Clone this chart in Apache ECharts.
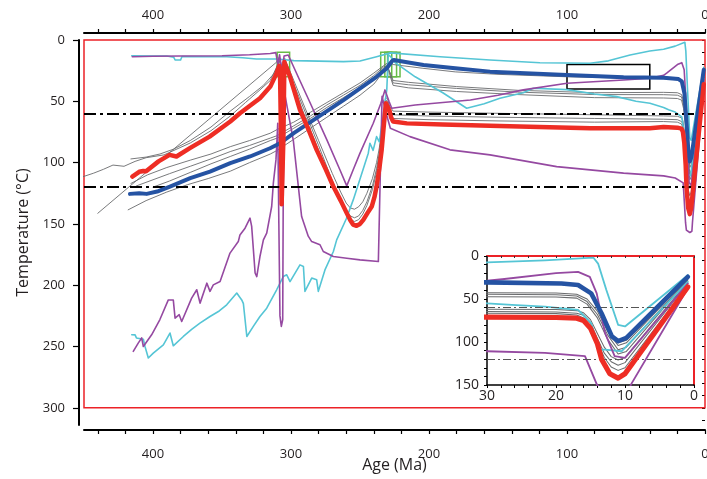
<!DOCTYPE html>
<html><head><meta charset="utf-8">
<script src="https://cdn.jsdelivr.net/npm/echarts@6/dist/echarts.min.js"></script>
<style>html,body{margin:0;padding:0;background:#fff}#c{width:707px;height:479px}</style>
</head><body><div id="c"></div>
<script>
// ---- data: [age Ma, temperature °C] ----
const redPath = [[415,111.4],[410,107.5],[407,106.8],[405,107],[396,99],[388,93.7],[383,95],[373,88],[359,78.8],[344,66.5],[337,59.8],[322.5,47.5],[315,38],[310.4,27],[308.5,21],[308,23],[307.2,80],[306.8,134],[305.9,134],[305.5,80],[304.8,18],[303.5,17],[300.7,30],[293.5,57],[287,74],[281.4,89.6],[275,105],[269.3,119.5],[264,131],[259.6,141.2],[257,147],[255,150.5],[252.5,151.5],[250,150],[247.6,146.7],[244.5,141],[241.5,135.8],[239.5,128],[238,119.5],[236,105],[234.3,89.6],[232.6,67.9],[231.2,51.6],[230,50.3],[228.5,58],[227.5,63],[226,66.5],[216,68],[190,69],[155.8,70],[120,71],[83,72],[40,72],[30,71],[20,71.5],[17,72.3],[16,75],[15,84],[14,102],[13.4,120],[12.2,137],[11,142],[10,137],[0.9,36]];
const bluePath = [[416.7,125.5],[410,125],[404.6,125.5],[397,123.6],[387.7,119.5],[373,112.7],[358.7,107.3],[344,100.5],[329.7,95],[315.2,88.3],[307.9,84.2],[298,76],[286,67],[274,58],[262,49],[252,41],[238,30],[230.6,23],[227,17.5],[225.5,16.3],[213.8,18.5],[204,20.4],[181,23],[155.8,25.8],[100,28.5],[59,30.4],[30,30.7],[19.2,31.9],[16.8,33.8],[14.9,43.4],[13.4,66.5],[11.9,93.4],[11,99],[9.8,95.3],[0.9,24.2]];
const purpleUpper = [[415,13.6],[400,13.2],[380,13],[350,12.8],[330,12],[315,11],[311,10.3],[309.5,20],[308.3,12],[306.5,26],[305,13],[302,12.2],[294,32],[286,51.6],[274,81.5],[264.5,106],[259.6,119],[255,106],[250,92.3],[240.4,67.9],[235,52],[231.9,40.7],[229,50],[227,55.7],[210,53],[190,51],[170,48.9],[150,45],[131.7,40.7],[100,35.3],[59,32.6],[39.9,31.2],[30,28.8],[27.8,27],[20,20],[16.8,18.5],[15.1,24.2],[14.1,43.4],[12.9,89.5],[11.5,116.5],[10,118.4],[0.9,32]];
const purpleLower = [[414.3,254],[410.6,247],[408.2,243],[407,250],[401,240.4],[395,228],[388.9,212],[385.3,212],[384,226.8],[381,224],[379.2,229.6],[372,210.5],[368.3,203.7],[365.9,214.6],[361,198.3],[358.7,205],[356.3,199.7],[351.4,197],[344.2,173.8],[338.2,164.4],[337,159],[333.3,153.5],[329.7,145.3],[328.5,152],[326,190],[324.8,193],[322.5,176.6],[320,163],[317.6,157.5],[314,135.8],[312.8,116.8],[310.9,97.8],[310.4,87],[309.6,68],[308.8,150],[308,225],[307,233.6],[306,228],[305.6,120],[304.6,43.5],[298.3,82],[292.3,144],[287.5,160],[285,164.4],[279,167],[276.6,172.5],[269.3,176.6],[259.6,178],[250,179.3],[236.7,180.7],[235.5,120],[234,46],[231,60],[228,72],[213.8,78.8],[184.8,89.6],[155.8,93.7],[107.5,103.3],[59,108.6],[30,110.8],[21.6,112.6],[15.8,116.5],[14.1,149],[13.5,155],[11,157],[9.5,156],[9.1,149],[0.9,37.6]];
const cyanUpper = [[415.4,12.8],[400,13],[390,13],[385,14],[384,16.3],[380,16.3],[379,13.5],[360,13.6],[346.6,13.6],[335,14.5],[325,15.5],[310,15.5],[298,16.8],[262,17.6],[250,17.1],[238,13.6],[228,10.5],[192,13.6],[155.8,16.3],[119.6,18.5],[83.3,19],[70,17],[54.3,12.2],[40,9],[30,7.5],[21.6,5],[14.6,1.8],[13.9,8.8],[12.7,39.6],[11,80],[10,81.9],[0.9,22.3]];
const cyanLower = [[415.4,240.4],[413,240.5],[412,243],[407,244],[405.8,250],[404.6,251],[403.4,259.4],[399.8,255.4],[392.5,248.6],[387.7,239],[385.3,249.4],[378,241.8],[372,236],[366,230.9],[358.7,225.5],[352,221],[346.6,216],[339.3,206.4],[337,210],[335.7,212],[334.5,215],[332,241.8],[327.3,233.6],[322.5,225.5],[317.6,218.7],[310.4,203.7],[305.6,192.9],[303.1,191.5],[300.7,197],[293.5,183.4],[291,184.7],[289.9,205],[285,194.2],[281.4,195.6],[280.2,205],[275.4,187.5],[269.3,172.5],[266.9,163],[260,146],[254.9,130.4],[249,110],[244,92.3],[242.8,84.2],[240.5,90],[238,78.8],[236,83],[233,60],[230.6,40.7],[229.5,12],[227.5,14],[225,18],[210,30],[190,43],[172.7,55.7],[160,52],[148.6,47.5],[131.7,43],[124.4,39.4],[100.2,40.5],[80,44],[64,46.2],[50,50],[39.9,51.6],[30,55],[26.4,56.9],[21.6,58.8],[16.8,62.7],[14.9,78],[13.9,108.8],[12.9,108.8],[10.5,110.8],[0.9,30]];
const grayU1 = [[416,117],[404,110],[390,104],[373,98],[358,93],[344,87],[330,82],[315,76],[310,73],[298,67],[286,59],[274,51],[262,43],[250,35],[240,27],[233,21],[229,18],[226,20],[205,23],[181,26],[150,28],[100,30],[60,31],[30,31.5],[20,32.5],[17,34.5],[15.5,40],[14,55],[12.5,85],[11,101],[9.8,98],[0.9,25]];
const grayU2 = [[418,138.5],[405,131],[390,124],[375,118],[360,113],[344,107],[330,100],[315,93],[310,90],[298,81],[286,72],[274,63],[262,54],[250,45],[240,36],[233,26],[230,23],[228,27],[226,33],[215,34.5],[180,38],[136,41],[80,43],[30,42.7],[20,43],[17,44.5],[15.5,50],[14,64],[12.5,88],[11,104],[9.8,101],[0.9,26]];
const grayU3 = [[412,119],[400,114],[388,109],[373,103],[358,97],[344,91],[330,86],[315,80],[310,78],[298,70],[286,62],[274,53],[262,45],[250,37],[240,29],[233,22],[230,21],[228,28],[226,35],[215,36.5],[180,39.5],[136,42.5],[80,44.5],[30,44.6],[20,45],[17,46.5],[15.5,53],[14,68],[12.5,92],[11,109],[9.8,106],[0.9,27]];
const grayU4 = [[400,120],[388,115],[373,108],[358,101],[344,95],[330,89],[315,82],[310,80],[298,72],[286,64],[274,55],[262,47],[250,39],[240,31],[233,23],[230,22],[228,30],[226,37],[215,39],[180,42],[136,44.5],[80,47],[30,47.3],[20,47.7],[17,49],[15.5,56],[14,72],[12.5,97],[11,114],[9.8,111],[0.9,28]];
const grayL1 = [[440,141.3],[310.4,18],[308.5,14],[306.5,22],[304.5,16],[302,22],[298,33],[290,55],[280,82],[270,109],[264,124],[260,133],[257,137],[254,138],[251,136],[248,132],[245,125],[241,113],[238,100],[236,88],[233,62],[231.5,47],[230,48],[228.5,54],[226,58],[200,58.8],[150,59.8],[80,61],[30,61.9],[20,62.2],[17,63.5],[16,66],[15,74],[14,90],[13,106],[12,117],[11,121],[10,118],[0.9,30]];
const grayL2 = [[450.5,111.4],[443,108.6],[436,105.5],[429,102],[421,103],[413,99],[405,96],[392,93.7],[373,84],[358,74],[344,62],[333,51],[322.5,40.7],[315,33],[310.4,22],[308.5,15],[306.5,24],[304.5,15],[302,24],[298,36],[290,58],[280,86],[270,115],[264,130],[260,139],[257,143.5],[254,145],[251,143.5],[248,139],[245,132],[241,119],[238,105],[236,92],[233,64],[231.5,49],[230,50],[228.5,57],[226,61],[200,62],[150,63],[80,64],[30,64.6],[20,65],[17,66.5],[16,69],[15,78],[14,96],[13,113],[12,123],[11,127],[10,124],[0.9,32]];
const grayL3 = [[416,97],[405,95.5],[395,93],[385,89],[373,82],[358,71],[344,58],[330,46],[320,37],[312,27],[310,22],[308.5,17],[306.5,26],[304.5,17],[302,25],[298,38],[290,62],[280,90],[270,118],[264,133],[260,142],[257,146.5],[254,148],[251,146.5],[248,142],[245,135],[241,122],[238,108],[236,95],[233,68],[231.5,52],[230,53],[228.5,60],[226,64],[200,65],[150,66],[80,67],[30,66.5],[20,67],[17,68.5],[16,72],[15,82],[14,100],[13,118],[12,129],[11,133],[10,130],[0.9,34]];
const grayPaths = [grayU1, grayU2, grayU3, grayU4, grayL1, grayL2, grayL3];
// annotation boxes: [ageOld, ageYoung, Ttop, Tbottom]
const greenBoxes = [[310,301,10,30],[235,227,10,30],[232,223.5,10,30],[230,221,10,30]];
const blackBox = [100,40,20,40];
const thresholds = [60, 120];
// tick labels
const xTickLabels = [400,300,200,100,0];
const yTickLabels = [0,50,100,150,200,250,300];
const insetXLabels = [30,20,10,0];
const insetYLabels = [0,50,100,150];

// ---- chart ----
const TXT = '#231f20', FONT = 'Open Sans';
const RED='#ee2d24', BLUE='#2553a3', PURPLE='#9549a1', CYAN='#55c5d5', GRAY='#6a6b6d', GREEN='#67bb47';
function steps(a,b,s){const r=[];for(let v=a;v<=b+1e-9;v+=s)r.push(+v.toFixed(6));return r;}
function recent(a){const i=a.findIndex(p=>p[0]<=30);return a.slice(Math.max(0,i-1));}
function line(data,color,width,xi,yi,z){return {type:'line',data,xAxisIndex:xi,yAxisIndex:yi,showSymbol:false,symbol:'none',z,clip:true,silent:true,animation:false,lineStyle:{color,width,join:'round',cap:'round'}};}

const series = [];
// main frame (red rectangle) + dash-dot thresholds
series.push({type:'line',data:[],xAxisIndex:0,yAxisIndex:0,z:1,silent:true,
  markArea:{silent:true,label:{show:false},itemStyle:{color:'rgba(0,0,0,0)',borderColor:'#ec2227',borderWidth:1.5},
    data:[[{coord:[450,0]},{coord:[0,300]}]]}});
series.push({type:'line',data:[],xAxisIndex:0,yAxisIndex:0,z:7,silent:true,
  markLine:{silent:true,symbol:['none','none'],label:{show:false},lineStyle:{color:'#000',width:2,type:[12,4,3,4]},
    data:thresholds.map(t=>[{coord:[450,t]},{coord:[0,t]}])}});
function addSet(xi,yi,scale,filter){
  const f = filter?recent:(a=>a);
  grayPaths.forEach(g=>series.push(line(f(g),GRAY,0.9*scale,xi,yi,2)));
  series.push(line(f(cyanUpper),CYAN,1.6*scale,xi,yi,3));
  series.push(line(f(cyanLower),CYAN,1.6*scale,xi,yi,3));
  series.push(line(f(purpleUpper),PURPLE,1.6*scale,xi,yi,4));
  series.push(line(f(purpleLower),PURPLE,1.6*scale,xi,yi,4));
  series.push(line(f(bluePath),BLUE,4*scale,xi,yi,5));
  series.push(line(f(redPath),RED,4.5*scale,xi,yi,6));
}
addSet(0,0,1,false);
// annotation boxes
series.push({type:'line',data:[],xAxisIndex:0,yAxisIndex:0,z:10,silent:true,
  markArea:{silent:true,label:{show:false},itemStyle:{color:'rgba(0,0,0,0)',borderColor:GREEN,borderWidth:1.5},
    data:greenBoxes.map(b=>[{coord:[b[0],b[2]]},{coord:[b[1],b[3]]}])}});
series.push({type:'line',data:[],xAxisIndex:0,yAxisIndex:0,z:10,silent:true,
  markArea:{silent:true,label:{show:false},itemStyle:{color:'rgba(0,0,0,0)',borderColor:'#000',borderWidth:1.5},
    data:[[{coord:[blackBox[0],blackBox[2]]},{coord:[blackBox[1],blackBox[3]]}]]}});
// inset
series.push({type:'line',data:[],xAxisIndex:2,yAxisIndex:2,z:1,silent:true,
  markLine:{silent:true,symbol:['none','none'],label:{show:false},lineStyle:{color:'#555',width:1.2,type:[8,3,2,3]},
    data:thresholds.map(t=>[{coord:[30,t]},{coord:[0,t]}])}});
addSet(2,2,1.15,true);

const mainX = (pos,off)=>({gridIndex:0,type:'value',min:0,max:450,inverse:true,position:pos,offset:off,
  splitLine:{show:false},axisLine:{onZero:false,lineStyle:{color:'#000',width:2}},
  axisTick:{customValues:steps(0,440,20),length:4,lineStyle:{color:'#000',width:1.2}},
  axisLabel:{customValues:xTickLabels,color:TXT,fontFamily:FONT,fontSize:13,margin:pos==='top'?11:18}});
const option = {
  animation:false,
  backgroundColor:'#fff',
  grid:[{left:84,right:2,top:40,bottom:54,outerBoundsMode:'none',containLabel:false},
        {left:487,right:13,top:256,bottom:94,outerBoundsMode:'none',containLabel:false}],
  xAxis:[
    Object.assign(mainX('bottom',5),{name:'Age (Ma)',nameLocation:'middle',nameGap:27,nameMoveOverlap:false,nameTextStyle:{color:TXT,fontFamily:FONT,fontSize:16}}),
    mainX('top',7),
    {gridIndex:1,type:'value',min:0,max:30,inverse:true,position:'bottom',splitLine:{show:false},
     axisLine:{onZero:false,lineStyle:{color:'#000',width:1.5}},
     axisTick:{customValues:steps(0,30,2),length:3,lineStyle:{color:'#000'}},
     axisLabel:{customValues:insetXLabels,color:TXT,fontFamily:FONT,fontSize:14,margin:4}},
    {gridIndex:1,type:'value',min:0,max:30,inverse:true,position:'top',splitLine:{show:false},
     axisLine:{onZero:false,lineStyle:{color:'#ec2227',width:2}},
     axisTick:{inside:true,customValues:steps(0,30,2),length:2,lineStyle:{color:'#333'}},
     axisLabel:{show:false}}
  ],
  yAxis:[
    {gridIndex:0,type:'value',min:0,max:314,inverse:true,position:'left',offset:5,splitLine:{show:false},
     axisLine:{onZero:false,lineStyle:{color:'#000',width:2}},
     axisTick:{customValues:yTickLabels,length:6,lineStyle:{color:'#000',width:1.2}},
     axisLabel:{customValues:yTickLabels,color:TXT,fontFamily:FONT,fontSize:13,margin:14},
     name:'Temperature (°C)',nameLocation:'middle',nameGap:48,nameMoveOverlap:false,nameRotate:90,nameTextStyle:{color:TXT,fontFamily:FONT,fontSize:16}},
    {gridIndex:0,type:'value',min:0,max:314,inverse:true,position:'left',offset:5,splitLine:{show:false},
     axisLine:{show:false},axisTick:{customValues:steps(0,310,10),length:3,lineStyle:{color:'#000',width:1}},axisLabel:{show:false}},
    {gridIndex:1,type:'value',min:0,max:150,inverse:true,position:'left',splitLine:{show:false},
     axisLine:{onZero:false,lineStyle:{color:'#000',width:1.5}},
     axisTick:{customValues:steps(0,150,10),length:3,lineStyle:{color:'#000'}},
     axisLabel:{customValues:insetYLabels,color:TXT,fontFamily:FONT,fontSize:14,margin:8}},
    {gridIndex:1,type:'value',min:0,max:150,inverse:true,position:'right',splitLine:{show:false},
     axisLine:{onZero:false,lineStyle:{color:'#ec2227',width:2}},axisTick:{show:false},axisLabel:{show:false}}
  ],
  series
};
const chart = echarts.init(document.getElementById('c'));
chart.setOption(option);
</script>
</body></html>
